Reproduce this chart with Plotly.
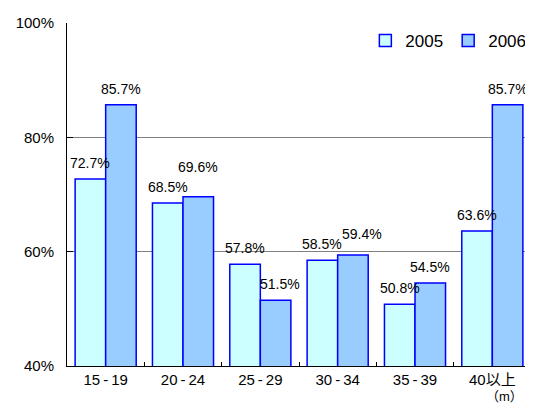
import plotly.graph_objects as go

categories = ["15-19", "20-24", "25-29", "30-34", "35-39", "40以上"]
values_2005 = [72.7, 68.5, 57.8, 58.5, 50.8, 63.6]
values_2006 = [85.7, 69.6, 51.5, 59.4, 54.5, 85.7]
y_ticks = [40, 60, 80, 100]

tick_text = [c.replace("-", "\u2009-\u2009") for c in categories]

# style: bar colours and label placement
series = [
    ("2005", values_2005, "#CCFFFF", -15.3),
    ("2006", values_2006, "#99CCFF", 15.3),
]
label_lift = 16
# manual label nudges (series, category index) -> (dx, dy) in px, as in the reference
label_nudge = {("2006", 1): (0, 14), ("2006", 3): (9, 5), ("2006", 2): (4, 0)}

fig = go.Figure()
for name, vals, color, dx in series:
    fig.add_trace(go.Bar(
        name=name, x=categories, y=vals,
        marker=dict(color=color, line=dict(color="#0000FF", width=1.5)),
    ))
    for i, (c, v) in enumerate(zip(categories, vals)):
        ndx, ndy = label_nudge.get((name, i), (0, 0))
        fig.add_annotation(
            x=c, y=v, xref="x", yref="y", text=f"{v:.1f}%",
            showarrow=False, xanchor="center", yanchor="middle",
            xshift=dx + ndx, yshift=label_lift + ndy,
            font=dict(size=14, color="#000000"),
        )

fig.update_layout(
    width=533, height=404,
    margin=dict(l=59, r=10, t=15, b=46, autoexpand=False),
    paper_bgcolor="white", plot_bgcolor="white",
    font=dict(family="Liberation Sans, Arial, Noto Sans CJK JP", size=15, color="#000000"),
    barmode="group", bargap=0.21, bargroupgap=0,
    showlegend=True,
    legend=dict(orientation="h", x=0.643, y=1.0, xanchor="left", yanchor="top",
                font=dict(size=17), bgcolor="rgba(0,0,0,0)", itemwidth=30,
                tracegroupgap=0),
    xaxis=dict(
        showline=True, linecolor="#000000", linewidth=1,
        ticks="inside", tickson="boundaries", ticklen=4, tickcolor="#000000",
        tickmode="array", tickvals=categories, ticktext=tick_text,
        tickfont=dict(size=15),
    ),
    yaxis=dict(
        range=[40, 100], tickvals=y_ticks, ticktext=[f"{v}%" for v in y_ticks],
        showline=True, linecolor="#000000", linewidth=1,
        ticks="inside", ticklen=6, tickcolor="#000000",
        ticklabelstandoff=9,
        showgrid=True, gridcolor="#808080", gridwidth=1,
        zeroline=False, tickfont=dict(size=15),
    ),
)

fig.add_annotation(
    text="（m）", xref="paper", yref="paper", x=0.943, y=-0.09,
    xanchor="center", yanchor="middle", showarrow=False,
    font=dict(size=13),
)

fig.write_html("out.html")
